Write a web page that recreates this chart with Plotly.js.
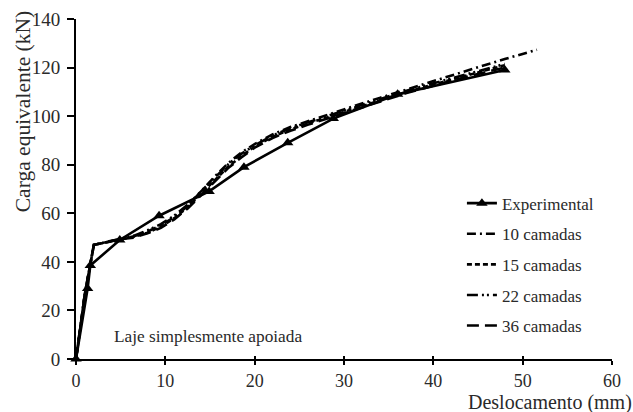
<!DOCTYPE html>
<html>
<head>
<meta charset="utf-8">
<script src="https://cdn.plot.ly/plotly-3.0.1.min.js"></script>
<style>
  html, body { margin: 0; padding: 0; background: #fff; }
  #chart { width: 633px; height: 412px; }
</style>
</head>
<body>
<div id="chart"></div>
<script>
// Load–displacement curves for the simply supported slab
const expX = [0, 1.3, 1.6, 4.9, 9.3, 14.9, 18.8, 23.7, 28.8, 36.0, 48.0];
const expY = [0, 29, 38.5, 49, 59, 69, 79, 89, 99, 109, 119];

const numX = [0, 1.0, 2.0, 4.9, 6.5, 8, 9.5, 11, 12.5, 14, 15.5, 17, 18.5, 20, 22, 24, 26, 28.5, 31, 34, 37, 40, 44, 48];
const c10X = [0, 1.0, 2.0, 4.9, 6.5, 8, 9.5, 11, 12.5, 14, 15.5, 17, 18.5, 20, 22, 24, 26, 28.5, 31, 34, 37, 40, 44, 48, 51.6];
const c10Y = [0, 27, 47, 49.3, 50.5, 52.5, 55, 58.5, 63, 69, 75, 80.5, 85, 88.5, 92.5, 95.5, 98, 101, 104, 107.5, 111, 114.5, 119, 123.5, 127.3];
const c15Y = [0, 27, 47, 49.3, 50.3, 52, 54.5, 58, 62.5, 68, 73.5, 79, 83.5, 87.5, 91.5, 94.5, 97, 100, 103, 106.5, 110, 113, 117, 121];
const c22Y = [0, 27, 47, 49.3, 50.8, 53, 55.5, 59, 63.5, 69, 74.5, 80, 84.5, 88, 92, 95, 97.5, 100.5, 103.5, 107, 110.5, 113.5, 117.5, 121.5];
const c36Y = [0, 27, 47, 49.3, 50, 51.8, 54, 57.5, 62, 67.5, 73, 78.5, 83, 87, 91, 94, 96.5, 99.5, 102.5, 106, 109.5, 112.5, 116.5, 120];

const names = ['Experimental', '10 camadas', '15 camadas', '22 camadas', '36 camadas'];
const xTicks = [0, 10, 20, 30, 40, 50, 60];
const yTicks = [0, 20, 40, 60, 80, 100, 120, 140];

const FONT = "'Liberation Serif', 'Times New Roman', Times, serif";
const TXT = '#2a2a2a';

function numTrace(x, y, name, dash, group) {
  return {
    x: x, y: y, name: name, type: 'scatter', mode: 'lines',
    legendgroup: group,
    line: { color: '#000', width: 2.6, dash: dash },
    hoverinfo: 'skip'
  };
}

const traces = [
  {
    x: expX, y: expY, name: names[0], type: 'scatter', mode: 'lines+markers',
    legendgroup: 'g0',
    line: { color: '#000', width: 2.6 },
    marker: { symbol: 'triangle-up', size: 10, color: '#000' },
    cliponaxis: false, hoverinfo: 'skip'
  },
  numTrace(c10X, c10Y, names[1], '9px,4px,2px,4px', 'g1'),
  numTrace(numX, c15Y, names[2], '5px,3px', 'g2'),
  numTrace(numX, c22Y, names[3], '11px,4px,2px,3px,2px,4px', 'g3'),
  numTrace(numX, c36Y, names[4], '12px,6px', 'g4'),
  // inner half of the crossing tick marks on the x axis
  { x: [0], y: [0], xaxis: 'x2', yaxis: 'y', mode: 'markers', marker: { opacity: 0 },
    showlegend: false, hoverinfo: 'skip' }
];

const layout = {
  width: 633, height: 412,
  margin: { l: 75.5, r: 21.3, t: 19.3, b: 53 },
  paper_bgcolor: '#fff', plot_bgcolor: '#fff',
  font: { family: FONT, size: 17, color: TXT },
  showlegend: true,
  legend: {
    x: 0.72, y: 0.51, xanchor: 'left', yanchor: 'top',
    bgcolor: 'rgba(0,0,0,0)', tracegroupgap: 5.5,
    font: { family: FONT, size: 17, color: TXT }
  },
  xaxis: {
    range: [0, 60], tickvals: xTicks, ticktext: xTicks.map(String),
    showgrid: false, zeroline: false, showline: true, linecolor: '#000', linewidth: 2,
    ticks: 'outside', ticklen: 4, tickwidth: 2, tickcolor: '#000',
    ticklabelstandoff: 0,
    tickfont: { family: FONT, size: 18, color: TXT }
  },
  xaxis2: {
    overlaying: 'x', matches: 'x', range: [0, 60], tickvals: xTicks,
    showgrid: false, zeroline: false, showline: false,
    ticks: 'inside', ticklen: 3, tickwidth: 2, tickcolor: '#000',
    showticklabels: false, anchor: 'y'
  },
  yaxis: {
    range: [0, 140], tickvals: yTicks, ticktext: yTicks.map(String),
    showgrid: false, zeroline: false, showline: true, linecolor: '#000', linewidth: 2,
    ticks: 'outside', ticklen: 7, tickwidth: 2, tickcolor: '#000',
    ticklabelstandoff: 3,
    tickfont: { family: FONT, size: 19, color: TXT }
  },
  annotations: [
    { text: 'Carga equivalente (kN)', xref: 'paper', yref: 'paper',
      x: -0.1, y: 0.727, xanchor: 'center', yanchor: 'middle', textangle: -90,
      showarrow: false, font: { family: FONT, size: 21.5, color: TXT } },
    { text: 'Deslocamento (mm)', xref: 'paper', yref: 'paper',
      x: 1.039, y: -0.129, xanchor: 'right', yanchor: 'middle', borderpad: 0,
      showarrow: false, font: { family: FONT, size: 20, color: TXT } },
    { text: 'Laje simplesmente apoiada', xref: 'x', yref: 'y',
      x: 4.0, y: 9.2, xanchor: 'left', yanchor: 'middle',
      showarrow: false, font: { family: FONT, size: 17.3, color: TXT } }
  ]
};

Plotly.newPlot('chart', traces, layout, { displayModeBar: false, staticPlot: true });
</script>
</body>
</html>
